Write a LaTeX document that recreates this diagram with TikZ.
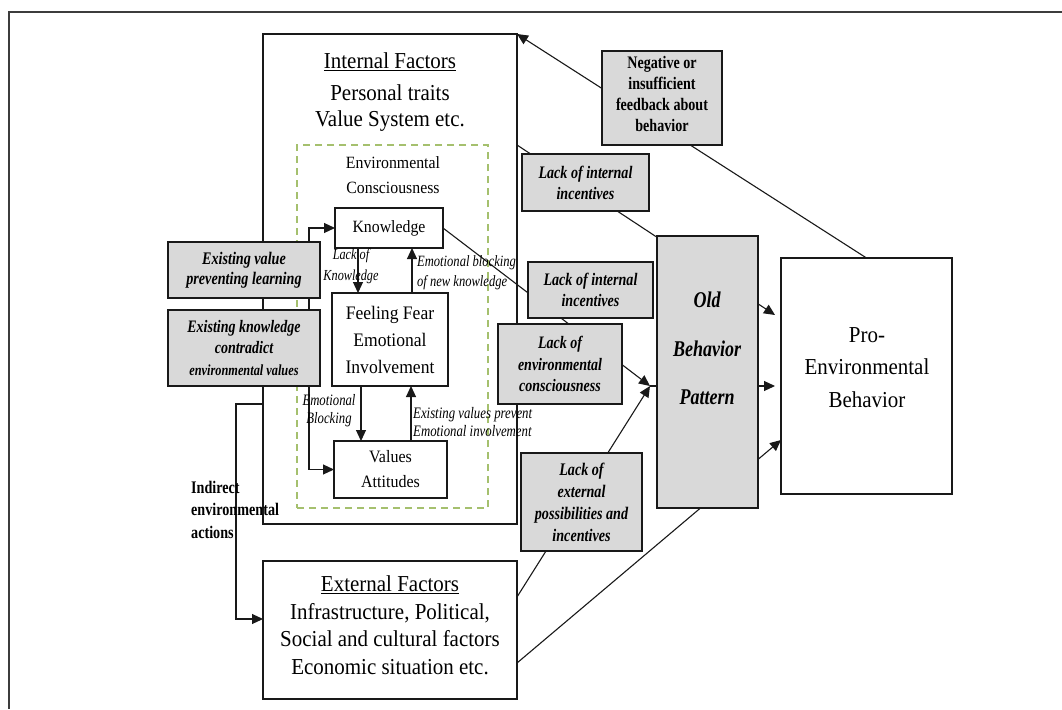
\documentclass[tikz,border=0pt]{standalone}
\usepackage{fontspec}
\setmainfont[FakeStretch=0.92]{Liberation Serif}
\newfontfamily\cond[FakeStretch=0.8]{Liberation Serif}
\usetikzlibrary{arrows.meta,backgrounds}
\definecolor{frameC}{RGB}{60,60,60}
\definecolor{lineC}{RGB}{25,25,25}
\definecolor{boxGray}{RGB}{217,217,217}
\definecolor{envGreen}{RGB}{165,192,110}
\newcommand{\setfs}[2]{\fontsize{#1}{#2}\selectfont}
\tikzset{
  box/.style={draw=lineC, line width=1.3pt, inner sep=0pt, outer sep=0pt},
  wbox/.style={box, fill=white, align=center},
  gbox/.style={box, fill=boxGray, align=center},
  txt/.style={inner sep=0pt, align=center},
  ltxt/.style={inner sep=0pt, align=left, anchor=west},
  conn/.style={draw=lineC, line width=1.1pt},
  tip/.style={-{Triangle[length=11pt,width=10pt]}},
  arr/.style={conn, tip},
  darr/.style={conn, {Triangle[length=11pt,width=10pt]}-{Triangle[length=11pt,width=10pt]}},
}
\begin{document}
\begin{tikzpicture}[x=1pt, y=-1pt]
\useasboundingbox (0,0) rectangle (1062,709);

% ---------- internal factors ----------
\node[box, minimum width=254pt, minimum height=490pt] (int) at (390,279) {};
\node[txt, font={\setfs{22.8}{28}}] (intHead) at (390,62) {\underline{Internal Factors}};
\node[txt, font={\setfs{22.8}{26}}] (intBody) at (390,108) {Personal traits\\Value System etc.};

% environmental consciousness group
\node[draw=envGreen, line width=1.3pt, dash pattern=on 7pt off 5pt, inner sep=0pt,
      minimum width=191pt, minimum height=363pt] (env) at (392.5,326.5) {};
\node[txt, font={\setfs{17.2}{25}}] (envHead) at (393,175.5) {Environmental\\Consciousness};

\node[wbox, minimum width=108pt, minimum height=40pt, font={\setfs{17.2}{20}}] (know) at (389,228) {Knowledge};
\node[wbox, minimum width=116pt, minimum height=93pt, font={\setfs{19.1}{27}}] (feel) at (390,339.5) {Feeling Fear\\Emotional\\Involvement};
\node[wbox, minimum width=113pt, minimum height=57pt, font={\setfs{17.4}{25}}] (vals) at (390.5,469.5) {Values\\Attitudes};

% ---------- external factors ----------
\node[box, minimum width=254pt, minimum height=138pt] (ext) at (390,630) {};
\node[txt, font={\setfs{22.8}{27.5}}] (extText) at (390,625) {\underline{External Factors}\\Infrastructure, Political,\\Social and cultural factors\\Economic situation etc.};

% ---------- behaviour ----------
\node[box, fill=white, minimum width=171pt, minimum height=236pt] (pro) at (866.5,376) {};
\node[txt, font={\setfs{22.8}{32.5}}] (proText) at (867,367.5) {Pro-\\Environmental\\Behavior};

\node[gbox, minimum width=101pt, minimum height=272pt] (old) at (707.5,372) {};
\node[txt, font={\cond\bfseries\itshape\setfs{22.5}{48.5}}] (oldText) at (707,348.5) {Old\\Behavior\\Pattern};

% ---------- barriers ----------
\node[gbox, minimum width=120pt, minimum height=94pt] (neg) at (662,98) {};
\node[txt, font={\cond\bfseries\setfs{17.6}{21.3}}] (negText) at (662,94) {Negative or\\insufficient\\feedback about\\behavior};
\node[gbox, minimum width=127pt, minimum height=57pt, font={\cond\bfseries\itshape\setfs{17.6}{21}}] (lii1) at (585.5,182.5) {Lack of internal\\incentives};
\node[gbox, minimum width=125pt, minimum height=56pt, font={\cond\bfseries\itshape\setfs{17.6}{21}}] (lii2) at (590.5,290) {Lack of internal\\incentives};
\node[gbox, minimum width=124pt, minimum height=80pt, font={\cond\bfseries\itshape\setfs{17.5}{21.5}}] (lec) at (560,364) {Lack of\\environmental\\consciousness};
\node[gbox, minimum width=121pt, minimum height=98pt, font={\cond\bfseries\itshape\setfs{17.7}{22}}] (lep) at (581.5,502) {Lack of\\external\\possibilities and\\incentives};
\node[gbox, minimum width=152pt, minimum height=56pt, font={\cond\bfseries\itshape\setfs{17.7}{20}}] (evp) at (244,270) {Existing value\\preventing learning};
\node[gbox, minimum width=152pt, minimum height=76pt, font={\cond\bfseries\itshape\setfs{17.5}{21.5}}] (ekc) at (244,348) {Existing knowledge\\contradict\\{\setfs{15.4}{21}environmental values}};

% ---------- labels ----------
\node[ltxt, font={\cond\bfseries\setfs{17.7}{22.5}}] (indLbl) at (191,509.5) {Indirect\\environmental\\actions};
\node[txt, font={\cond\itshape\setfs{15.3}{21}}] (lkLbl) at (351,266.5) {Lack of\\Knowledge};
\node[ltxt, font={\cond\itshape\setfs{15.7}{20}}] (ebLbl) at (417,273) {Emotional blocking\\of new knowledge};
\node[txt, font={\cond\itshape\setfs{15.9}{18}}] (emLbl) at (329,411) {Emotional\\Blocking};
\node[ltxt, font={\cond\itshape\setfs{16}{18}}] (evLbl) at (413,422) {Existing values prevent\\Emotional involvement};

% ---------- junctions and free ends ----------
\coordinate (C) at (650,386);
\coordinate (tipTop) at (775,315);
\coordinate (tipMid) at (775,386);
\coordinate (pL) at (781,440);
\coordinate (iR) at (517,145);
\coordinate (iL) at (263,404);
\coordinate (eR1) at (517,597);
\coordinate (eR2) at (517,663);
\coordinate (eL) at (263,619);
\coordinate (jog) at (236,500);
\coordinate (lb) at (309,300);
\coordinate (a1) at (358,0);
\coordinate (a2) at (412,0);
\coordinate (a3) at (361,0);
\coordinate (a4) at (411,0);

% ---------- connectors (behind the boxes) ----------
\begin{pgfonlayer}{background}
  \fill[white] (0,0) rectangle (1062,709);
  \draw[frameC, line width=1.8pt] (1062,12) -- (9,12) -- (9,709);
  \draw[arr] (pro.north) -- (int.north east);
  \draw[arr] (iR) -- (tipTop);
  \draw[arr] (know.east) -- (C);
  \draw[arr] (eR1) -- (C);
  \draw[arr] (C) -- (tipMid);
  \draw[arr] (eR2) -- (pL);
  \draw[darr] (know.west) -| (lb) |- (vals.west);
  \draw[arr] (iL) -| (jog) |- (eL);
  \draw[arr] (know.south -| a1) -- (feel.north -| a1);
  \draw[arr] (feel.north -| a2) -- (know.south -| a2);
  \draw[arr] (feel.south -| a3) -- (vals.north -| a3);
  \draw[arr] (vals.north -| a4) -- (feel.south -| a4);
\end{pgfonlayer}
\end{tikzpicture}
\end{document}
